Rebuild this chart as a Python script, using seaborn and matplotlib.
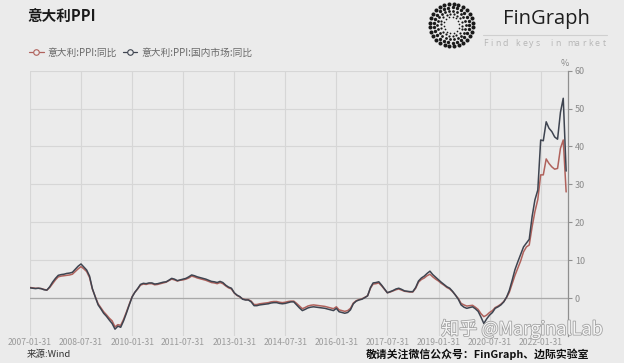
import numpy as np
import pandas as pd
import matplotlib
matplotlib.use("Agg")
import matplotlib.pyplot as plt
import matplotlib.patheffects as pe
from matplotlib.lines import Line2D
import seaborn as sns

# ---------------- data ----------------
start_date = "2007-01-31"
n_months = 190

ppi_total = [
    2.8, 2.7, 2.6, 2.6, 2.5, 2.3, 2.1, 2.8, 3.8, 4.8, 5.6, 5.8,
    5.9, 6.0, 6.1, 6.3, 7.0, 7.7, 8.3, 7.7, 7.0, 5.4, 2.4, 0.4,
    -1.5, -2.5, -3.6, -4.4, -5.3, -6.0, -7.6, -7.0, -7.2, -5.6, -3.7, -1.6,
    0.4, 1.5, 2.4, 3.4, 3.7, 3.6, 3.8, 3.8, 3.5, 3.6, 3.8, 4.0,
    4.2, 4.6, 5.0, 4.8, 4.5, 4.7, 4.8, 5.0, 5.3, 5.8, 5.6, 5.3,
    5.1, 4.9, 4.7, 4.4, 4.1, 4.0, 3.8, 4.1, 3.8, 3.2, 2.7, 2.4,
    1.3, 0.7, 0.3, -0.2, -0.4, -0.4, -0.8, -1.7, -1.7, -1.5, -1.4, -1.3,
    -1.2, -1.0, -0.9, -0.9, -1.1, -1.2, -1.1, -0.9, -0.8, -0.8, -1.4, -2.1,
    -2.8, -2.5, -2.1, -1.9, -1.8, -1.9, -2.0, -2.1, -2.2, -2.4, -2.6, -2.8,
    -2.3, -3.1, -3.3, -3.5, -3.3, -2.7, -1.3, -0.7, -0.4, -0.2, 0.2, 0.6,
    2.6, 3.7, 3.8, 4.0, 3.2, 2.3, 1.4, 1.6, 1.9, 2.2, 2.4, 2.1,
    1.8, 1.7, 1.6, 1.6, 2.6, 4.2, 4.9, 5.3, 5.9, 6.3, 5.6, 5.0,
    4.5, 3.9, 3.4, 2.8, 2.4, 1.7, 0.8, -0.1, -1.4, -1.8, -2.1, -2.0,
    -1.9, -2.4, -3.0, -4.1, -4.9, -4.5, -3.8, -3.3, -2.5, -2.1, -1.6, -0.9,
    0.2, 1.5, 3.8, 6.0, 7.9, 9.8, 12.2, 13.5, 14.0, 18.8, 22.8, 26.0,
    32.5, 32.5, 36.7, 35.5, 34.6, 34.0, 34.2, 39.5, 41.7, 28.0,
]

ppi_domestic = [
    2.7, 2.6, 2.5, 2.6, 2.5, 2.2, 2.1, 3.0, 4.2, 5.2, 6.0, 6.2,
    6.3, 6.5, 6.6, 6.8, 7.6, 8.4, 9.0, 8.2, 7.4, 5.8, 2.5, 0.3,
    -1.8, -2.8, -4.0, -4.8, -5.8, -6.7, -8.2, -7.4, -7.7, -6.0, -4.0, -1.8,
    0.3, 1.5, 2.5, 3.6, 3.9, 3.8, 4.0, 4.0, 3.7, 3.8, 4.0, 4.2,
    4.3, 4.7, 5.2, 5.0, 4.6, 4.8, 5.0, 5.2, 5.6, 6.1, 5.9, 5.6,
    5.4, 5.2, 5.0, 4.7, 4.4, 4.3, 4.1, 4.4, 4.1, 3.4, 2.9, 2.6,
    1.4, 0.8, 0.4, -0.3, -0.5, -0.5, -1.0, -2.0, -2.0, -1.8, -1.7, -1.6,
    -1.5, -1.3, -1.2, -1.2, -1.4, -1.5, -1.4, -1.2, -1.0, -1.0, -1.8, -2.6,
    -3.3, -3.0, -2.6, -2.4, -2.3, -2.4, -2.5, -2.6, -2.7, -2.9, -3.1, -3.3,
    -2.7, -3.6, -3.8, -4.0, -3.8, -3.1, -1.5, -0.8, -0.5, -0.3, 0.1, 0.6,
    2.8, 4.0, 4.1, 4.3, 3.4, 2.4, 1.4, 1.7, 2.0, 2.4, 2.6, 2.3,
    1.9, 1.8, 1.7, 1.7, 2.8, 4.5, 5.3, 5.8, 6.5, 7.1, 6.2, 5.5,
    4.8, 4.2, 3.6, 3.0, 2.6, 1.8, 0.8, -0.3, -1.8, -2.4, -2.7, -2.5,
    -2.3, -2.8, -3.5, -5.0, -6.7, -5.5, -4.5, -3.8, -2.7, -2.3, -1.8, -1.0,
    0.3, 2.0, 4.7, 7.5, 9.6, 11.5, 13.5, 14.5, 15.5, 21.5, 25.9, 28.5,
    41.7, 41.5, 46.5, 44.8, 43.9, 42.5, 41.9, 49.0, 52.7, 33.5,
]

series_names = ["意大利:PPI:同比", "意大利:PPI:国内市场:同比"]
series_colors = ["#b0625c", "#3e4450"]
y_ticks = [0, 10, 20, 30, 40, 50, 60]

dates = pd.date_range(start_date, periods=n_months, freq="ME")
df = pd.DataFrame({
    "date": np.concatenate([dates, dates]),
    "value": ppi_total + ppi_domestic,
    "series": [series_names[0]] * n_months + [series_names[1]] * n_months,
})
tick_dates = pd.date_range(start_date, "2022-01-31", freq="18ME")

# ---------------- style ----------------
BG = "#ebebeb"
sns.set_theme(style="white")
plt.rcParams["font.family"] = ["Noto Sans CJK SC", "DejaVu Sans"]
plt.rcParams["axes.unicode_minus"] = False

W, H = 624, 363
fig = plt.figure(figsize=(W / 100, H / 100), dpi=100, facecolor=BG)
ax = fig.add_axes([30 / W, 1 - 336 / H, (568 - 30) / W, (336 - 70.6) / H])
ax.set_facecolor(BG)

sns.lineplot(data=df, x="date", y="value", hue="series", palette=series_colors,
             hue_order=series_names, linewidth=1.1, ax=ax, legend=False, zorder=3)

ax.set_xlim(pd.Timestamp(start_date), pd.Timestamp("2022-11-20"))
ax.set_ylim(-10, 60)
ax.set_xticks(tick_dates)
ax.set_xticklabels([d.strftime("%Y-%m-%d") for d in tick_dates])
ax.set_yticks(y_ticks)
ax.yaxis.tick_right()
ax.yaxis.set_label_position("right")
ax.tick_params(axis="y", which="both", right=True, length=3, width=0.8,
               color="#909090", labelsize=6.5, labelcolor="#8a8a8a", pad=2)
ax.tick_params(axis="x", bottom=True, length=0, labelsize=6.2,
               labelcolor="#9a9a9a", pad=1.5)
ax.set_xlabel("")
ax.set_ylabel("")
ax.grid(True, color="#d6d6d6", linewidth=0.8, zorder=0)
ax.axhline(0, color="#a8a8a8", linewidth=0.9, zorder=1)
for s in ["left", "top", "bottom"]:
    ax.spines[s].set_visible(False)
ax.spines["right"].set_color("#8f8f8f")
ax.spines["right"].set_linewidth(0.9)

# ---------------- overlay (pixel coordinates) ----------------
ov = fig.add_axes([0, 0, 1, 1], zorder=5)
ov.set_xlim(0, W)
ov.set_ylim(H, 0)
ov.axis("off")
ov.patch.set_alpha(0)

ov.text(27, 17, "意大利PPI", fontsize=10.5, fontweight="bold", color="#1a1a1a",
        va="center", ha="left")

# legend
leg_handles = [Line2D([0], [0], color=c, linewidth=0.9, marker="o", markersize=4,
                      markerfacecolor=BG, markeredgecolor=c, markeredgewidth=0.8)
               for c in series_colors]
fig.legend(handles=leg_handles, labels=series_names, loc="center left",
           bbox_to_anchor=(29 / W, 1 - 52.5 / H), ncol=2, frameon=False,
           fontsize=7, handlelength=1.5, handletextpad=0.4, columnspacing=0.6,
           labelcolor="#6a6a6a", borderaxespad=0, borderpad=0)

ov.text(565, 63, "%", fontsize=6.5, color="#8a8a8a", ha="center", va="center")

# logo
cx, cy = 451.5, 25
rings = [(8.0, 14, 1.5), (11.0, 18, 2.6), (14.2, 22, 4.0), (17.6, 25, 6.0), (21.3, 28, 8.5)]
for r, n, s in rings:
    th = np.linspace(0, 2 * np.pi, n, endpoint=False) + (0.1 * r)
    ov.scatter(cx + r * np.cos(th), cy + r * np.sin(th), s=s, color="#1a1a1a",
               linewidths=0)
ov.text(546, 19, "FinGraph", fontsize=14.5, color="#1e1e1e", ha="center", va="center",
        family=["Open Sans", "DejaVu Sans"])
ov.plot([483, 607], [34.5, 34.5], color="#cfcfcf", linewidth=0.8)
tag = "Find keys in market"
for ch, xx in zip(tag, np.linspace(485, 604, len(tag))):
    ov.text(xx, 43.5, ch, fontsize=6.3, color="#b5b5b5", ha="center", va="center",
            family=["Open Sans", "DejaVu Sans"])

# footer
ov.text(27, 354, "来源:Wind", fontsize=6.8, color="#333333", ha="left", va="center")
ov.text(589, 354, "敬请关注微信公众号：FinGraph、边际实验室", fontsize=7.8,
        fontweight="bold", color="#111111", ha="right", va="center")

# watermark
ov.text(522, 329, "知乎 @MarginalLab", fontsize=13, color="#ffffff", alpha=0.9,
        ha="center", va="center",
        path_effects=[pe.withStroke(linewidth=1.2, foreground="#9a9a9a")])

fig.savefig("out.png", dpi=100, facecolor=BG)
